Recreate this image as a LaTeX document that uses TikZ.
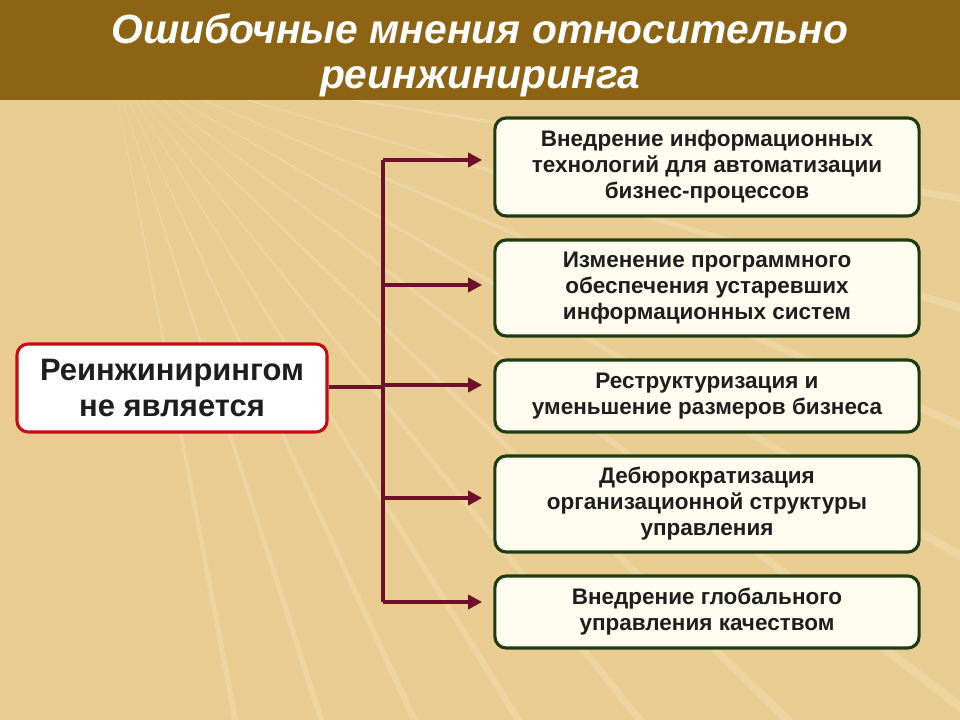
\documentclass[tikz,border=0pt]{standalone}
\usepackage{fontspec}
\setmainfont{Liberation Sans}
\usetikzlibrary{arrows.meta, positioning}
\definecolor{titlebrown}{RGB}{140,100,20}
\definecolor{sand}{RGB}{232,204,146}
\definecolor{ray}{RGB}{250,236,200}
\definecolor{maroon}{RGB}{110,15,45}
\definecolor{boxgreen}{RGB}{30,60,15}
\definecolor{boxred}{RGB}{200,10,20}
\definecolor{cream}{RGB}{255,252,240}
\definecolor{ink}{RGB}{30,30,30}
\tikzset{
  item/.style={draw=boxgreen, line width=2.2pt, fill=cream, rounded corners=8pt, text=ink,
    minimum width=10.6cm, align=center, font=\bfseries\fontsize{16}{18.5}\selectfont, inner sep=2pt},
  lead/.style={draw=boxred, line width=2.2pt, fill=white, rounded corners=8pt, text=ink,
    minimum width=7.75cm, minimum height=2.2cm, align=center, font=\bfseries\fontsize{22}{25}\selectfont},
  link/.style={draw=maroon, line width=3.5pt},
  arrow/.style={link, -{Triangle[length=10pt,width=10pt]}}
}
\begin{document}
\begin{tikzpicture}[x=0.025cm, y=-0.025cm]
  \useasboundingbox (0,0) rectangle (960,720);
  % background with rays
  \fill[sand] (0,0) rectangle (960,720);
  \foreach \a in {-5,2,...,85}
    \fill[ray, opacity=0.3] (110,60) -- ++(\a:1400) -- ++(\a+90:12) -- cycle;
  % title
  \fill[titlebrown] (0,0) rectangle (960,100);
  \node[text=white, align=center, font=\bfseries\itshape\fontsize{29}{32}\selectfont] (title) at (480,55)
    {Ошибочные мнения относительно\\реинжиниринга};
  % boxes
  \node[lead] (lead) at (172,388) {Реинжинирингом\\не является};
  \node[item, minimum height=2.45cm] (box1) at (707,167) {Внедрение информационных\\технологий для автоматизации\\бизнес-процессов};
  \node[item, minimum height=2.4cm] (box2) at (707,288) {Изменение программного\\обеспечения устаревших\\информационных систем};
  \node[item, minimum height=1.8cm] (box3) at (707,396) {Реструктуризация и\\уменьшение размеров бизнеса};
  \node[item, minimum height=2.4cm] (box4) at (707,504) {Дебюрократизация\\организационной структуры\\управления};
  \node[item, minimum height=1.8cm] (box5) at (707,612) {Внедрение глобального\\управления качеством};
  % connectors
  \coordinate (top) at (383,160);
  \coordinate (bot) at (383,602);
  \coordinate (mid) at (383,387);
  \draw[link] (top) -- (bot);
  \draw[link] (lead.east |- mid) -- (mid);
  \foreach \y/\b in {160/box1,285/box2,385/box3,498/box4,602/box5}
    \draw[arrow] (383,\y) -- ([xshift=-8pt]\b.west |- 0,\y);
\end{tikzpicture}
\end{document}
